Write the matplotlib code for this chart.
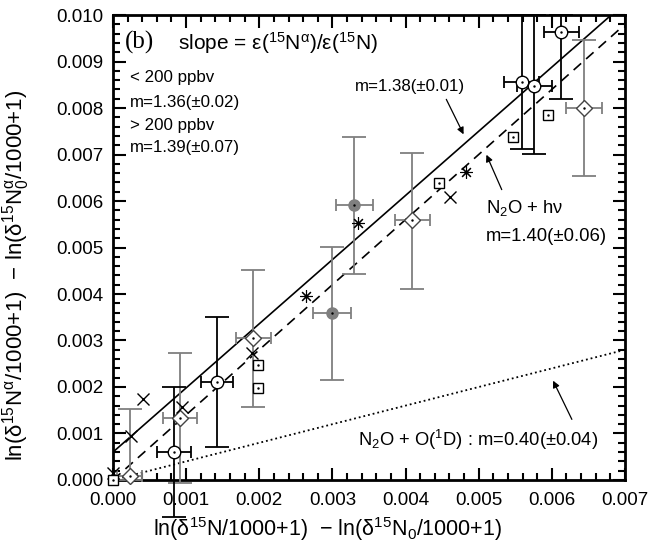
import numpy as np
import matplotlib
matplotlib.use("Agg")
import matplotlib.pyplot as plt
from matplotlib.ticker import MultipleLocator, FormatStrFormatter

plt.rcParams['font.family'] = ['Liberation Sans', 'DejaVu Sans']
plt.rcParams['mathtext.fontset'] = 'custom'
plt.rcParams['mathtext.rm'] = 'Liberation Sans'
plt.rcParams['mathtext.it'] = 'Liberation Sans:italic'
plt.rcParams['mathtext.default'] = 'regular'

# Fitted lines: slope and intercept
fit_slopes = [1.38, 1.40, 0.40]
fit_icepts = [0.0006, 0.0, 0.0]

# Open circles (black error bars)
circ_x = [0.00083, 0.00142, 0.00559, 0.00576, 0.00613]
circ_y = [0.00060, 0.00211, 0.00856, 0.00847, 0.00963]
circ_xerr = [0.00023, 0.00022, 0.00024, 0.00024, 0.00024]
circ_yerr_lo = [0.00140, 0.00140, 0.00144, 0.00146, 0.00144]
circ_yerr_hi = [0.00140, 0.00140, 0.00144, 0.00153, 0.00037]

# Open diamonds (grey error bars)
diam_x = [0.00023, 0.00092, 0.00192, 0.00409, 0.00644]
diam_y = [0.00009, 0.00133, 0.00305, 0.00559, 0.00800]
diam_xerr = [0.00017, 0.00023, 0.00024, 0.00024, 0.00024]
diam_yerr_lo = [0.00009, 0.00140, 0.00147, 0.00149, 0.00146]
diam_yerr_hi = [0.00144, 0.00140, 0.00147, 0.00144, 0.00146]

# Filled grey circles (grey error bars)
fill_x = [0.00300, 0.00330]
fill_y = [0.00359, 0.00591]
fill_xerr = [0.00026, 0.00025]
fill_yerr = [0.00143, 0.00147]

# Asterisks, crosses and squares (no error bars)
ast_x = [0.00264, 0.00335, 0.00482]
ast_y = [0.00396, 0.00553, 0.00662]
cross_x = [0.00000, 0.00025, 0.00041, 0.00094, 0.00190, 0.00461]
cross_y = [0.00015, 0.00095, 0.00174, 0.00157, 0.00273, 0.00609]
sq_x = [0.00000, 0.00198, 0.00198, 0.00446, 0.00547, 0.00595]
sq_y = [0.00000, 0.00198, 0.00247, 0.00639, 0.00738, 0.00785]

fig = plt.figure(figsize=(6.63, 5.48), dpi=100)
ax = fig.add_axes([0.1704, 0.1241, 0.7723, 0.8485])

# Fit lines
xs = np.array([0.0, 0.007])
xe = np.array([0.0, 0.00694])
ax.plot(xs, fit_icepts[0] + fit_slopes[0] * xs, '-', color='black', lw=1.2)
ax.plot(xe, fit_icepts[1] + fit_slopes[1] * xe, '--', color='black', lw=1.2, dashes=(6, 4))
ax.plot(xe, fit_icepts[2] + fit_slopes[2] * xe, ':', color='black', lw=1.3)

grey = '#7f7f7f'

def bars(x, y, xerr, yerr, color):
    ax.errorbar(x, y, yerr=yerr, fmt='none', ecolor=color, elinewidth=1.3,
                capsize=8.5, capthick=1.3, clip_on=False, zorder=3)
    ax.errorbar(x, y, xerr=xerr, fmt='none', ecolor=color, elinewidth=1.3,
                capsize=4.5, capthick=1.3, clip_on=False, zorder=3)

bars(diam_x, diam_y, diam_xerr, [diam_yerr_lo, diam_yerr_hi], grey)
bars(fill_x, fill_y, fill_xerr, fill_yerr, grey)
bars(circ_x, circ_y, circ_xerr, [circ_yerr_lo, circ_yerr_hi], 'black')

# Markers
ax.plot(circ_x, circ_y, 'o', ms=9, mfc='white', mec='black', mew=1.0, zorder=5, clip_on=False)
ax.plot(circ_x, circ_y, '.', ms=1.5, color='black', zorder=6)
ax.plot(diam_x, diam_y, 'D', ms=8.5, mfc='white', mec='#444444', mew=1.0, zorder=5, clip_on=False)
ax.plot(diam_x, diam_y, '.', ms=1.5, color='black', zorder=6)
ax.plot(fill_x, fill_y, 'o', ms=8, color=grey, zorder=5)
ax.plot(fill_x, fill_y, '.', ms=1.5, color='black', zorder=6)
ax.plot(ast_x, ast_y, marker=(8, 2, 0), ls='none', ms=9, color='black', mew=0.8, zorder=5)
ax.plot(cross_x, cross_y, 'x', ms=9, color='black', mew=1.0, zorder=5, clip_on=False)
ax.plot(sq_x, sq_y, 's', ms=7, mfc='white', mec='black', mew=1.0, zorder=5, clip_on=False)
ax.plot(sq_x, sq_y, '.', ms=1.5, color='black', zorder=6, clip_on=False)

# Axes
ax.set_xlim(0, 0.007)
ax.set_ylim(0, 0.010)
ax.xaxis.set_major_locator(MultipleLocator(0.001))
ax.xaxis.set_minor_locator(MultipleLocator(0.0002))
ax.yaxis.set_major_locator(MultipleLocator(0.001))
ax.yaxis.set_minor_locator(MultipleLocator(0.0002))
ax.xaxis.set_major_formatter(FormatStrFormatter('%.3f'))
ax.yaxis.set_major_formatter(FormatStrFormatter('%.3f'))
ax.tick_params(which='both', direction='in', top=True, right=True, width=1.5, labelsize=13.5)
ax.tick_params(which='major', length=9, pad=7)
ax.tick_params(axis='x', which='major', pad=9)
ax.tick_params(which='minor', length=5)
for s in ax.spines.values():
    s.set_linewidth(2)

ax.set_xlabel(r'ln($\delta^{15}$N/1000+1)  $-$ ln($\delta^{15}$N$_0$/1000+1)', fontsize=15.5)
ax.set_ylabel(r'ln($\delta^{15}$N$^{\alpha}$/1000+1)  $-$ ln($\delta^{15}$N$_0^{\alpha}$/1000+1)', fontsize=16)
ax.xaxis.set_label_coords(0.42, -0.076)
ax.yaxis.set_label_coords(-0.158, 0.44)

# Labels
ax.text(0.00016, 0.0094, '(b)', family='Liberation Serif', fontsize=18, va='center')
ax.text(0.00089, 0.0094, r'slope = $\epsilon$($^{15}$N$^{\alpha}$)/$\epsilon$($^{15}$N)', fontsize=15, va='center')
for txt, yy in [('< 200 ppbv', 0.00865), ('m=1.36(±0.02)', 0.00811),
                ('> 200 ppbv', 0.00763), ('m=1.39(±0.07)', 0.00714)]:
    ax.text(0.00023, yy, txt, fontsize=12.2, va='center')

ax.text(0.00331, 0.00847, 'm=1.38(±0.01)', fontsize=12.2, va='center')
ax.text(0.0051, 0.00585, r'N$_2$O + h$\nu$', fontsize=13.3, va='center')
ax.text(0.0051, 0.00523, 'm=1.40(±0.06)', fontsize=13.3, va='center')
ax.text(0.00335, 0.00086, r'N$_2$O + O($^1$D) : m=0.40(±0.04)', fontsize=13.2, va='center')

arrow = dict(arrowstyle='-|>', color='black', lw=0.9, mutation_scale=10)
ax.annotate('', xy=(0.00481, 0.00738), xytext=(0.00454, 0.00824), arrowprops=arrow)
ax.annotate('', xy=(0.00509, 0.00705), xytext=(0.00533, 0.00619), arrowprops=arrow)
ax.annotate('', xy=(0.00600, 0.00219), xytext=(0.00629, 0.00125), arrowprops=arrow)

fig.savefig('out.png', dpi=100)
